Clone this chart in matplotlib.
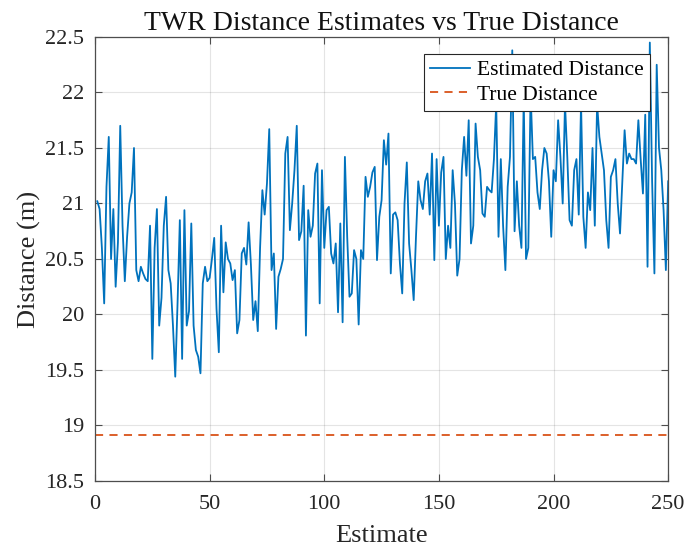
import numpy as np
import matplotlib
matplotlib.use("Agg")
import matplotlib.pyplot as plt

# TWR ranging run: one distance estimate per exchange (m)
estimates = [
    21.02, 20.95, 20.60, 20.10, 21.15, 21.60, 20.50, 20.95, 20.25, 20.65,
    21.70, 20.80, 20.30, 20.70, 21.00, 21.10, 21.50, 20.40, 20.30, 20.43,
    20.37, 20.32, 20.30, 20.80, 19.60, 20.60, 20.95, 19.90, 20.15, 20.80,
    21.06, 20.40, 20.28, 19.90, 19.44, 20.10, 20.85, 19.60, 20.94, 19.90,
    20.03, 20.82, 19.90, 19.68, 19.62, 19.47, 20.28, 20.43, 20.30, 20.33,
    20.50, 20.69, 20.05, 19.66, 20.80, 20.20, 20.65, 20.50, 20.46, 20.31,
    20.40, 19.83, 19.95, 20.55, 20.60, 20.45, 20.83, 20.45, 19.95, 20.12,
    19.85, 20.60, 21.12, 20.90, 21.18, 21.67, 20.40, 20.55, 19.87, 20.34,
    20.41, 20.50, 21.45, 21.60, 20.76, 21.00, 21.30, 21.70, 20.67, 20.75,
    21.16, 19.81, 20.94, 20.70, 20.80, 21.27, 21.36, 20.10, 21.30, 20.60,
    20.94, 20.97, 20.55, 20.46, 20.64, 20.02, 20.82, 19.93, 21.42, 20.70,
    20.16, 20.19, 20.58, 20.50, 19.91, 20.58, 20.50, 21.24, 21.06, 21.15,
    21.28, 21.33, 20.49, 20.88, 21.03, 21.57, 21.35, 21.63, 20.37, 20.90,
    20.92, 20.85, 20.46, 20.19, 21.00, 21.37, 20.64, 20.40, 20.13, 20.70,
    21.20, 21.03, 20.95, 21.20, 21.27, 20.90, 21.45, 20.49, 21.40, 20.80,
    21.28, 21.42, 20.50, 20.80, 20.60, 21.30, 21.00, 20.35, 20.50, 21.30,
    21.60, 21.25, 21.75, 20.64, 20.80, 21.72, 21.42, 21.30, 20.91, 20.88,
    21.15, 21.12, 21.10, 21.40, 21.90, 20.70, 21.40, 20.80, 20.40, 21.15,
    21.42, 22.38, 20.75, 21.20, 20.80, 20.60, 21.95, 20.50, 20.60, 22.00,
    21.40, 21.42, 21.10, 20.95, 21.30, 21.50, 21.45, 21.20, 20.70, 21.30,
    21.20, 21.75, 21.42, 21.00, 21.90, 21.42, 20.85, 20.80, 21.30, 21.40,
    20.90, 21.90, 20.88, 20.60, 21.10, 20.94, 21.50, 20.80, 21.90, 21.60,
    21.45, 21.30, 20.85, 20.60, 21.24, 21.30, 21.40, 21.00, 20.73, 21.20,
    21.66, 21.36, 21.45, 21.40, 21.40, 21.36, 21.75, 21.40, 21.09, 21.80,
    20.43, 22.45, 21.20, 20.37, 22.25, 21.50, 21.30, 20.94, 20.40, 21.20,
]
true_distance = 18.91

x_ticks = [0, 50, 100, 150, 200, 250]
y_ticks = [18.5, 19, 19.5, 20, 20.5, 21, 21.5, 22, 22.5]

plt.rcParams['font.family'] = ['Liberation Serif', 'DejaVu Serif']
plt.rcParams['mathtext.fontset'] = 'stix'

n = np.arange(1, len(estimates) + 1)

fig = plt.figure(figsize=(6.86, 5.53), dpi=100)
ax = fig.add_axes([0.1385, 0.1302, 0.8355, 0.8029])

ax.plot(n, estimates, color='#0072BD', lw=1.3, label='Estimated Distance')
ax.axhline(true_distance, color='#D95319', lw=1.3, ls=(0, (4.5, 3.5)),
           label='True Distance')

ax.set_xlim(0, 250)
ax.set_ylim(18.5, 22.5)
ax.set_xticks(x_ticks)
ax.set_yticks(y_ticks)
ax.set_yticklabels([f'{v:g}' for v in y_ticks])

ax.grid(True, color='#262626', alpha=0.12, lw=0.8)
ax.set_axisbelow(True)
for s in ax.spines.values():
    s.set_color('#4d4d4d')
    s.set_linewidth(0.9)
ax.tick_params(direction='in', length=5, width=0.8, colors='#4d4d4d',
               labelcolor='#262626', labelsize=16, top=True, right=True)
ax.tick_params(axis='x', pad=10)
ax.tick_params(axis='y', pad=8)

ax.set_title('TWR Distance Estimates vs True Distance', fontsize=20,
             color='#111111', pad=5)
ax.set_xlabel('Estimate', fontsize=19, color='#262626', labelpad=8)
ax.set_ylabel('Distance (m)', fontsize=19, color='#262626', labelpad=3)

leg = ax.legend(loc='upper right', bbox_to_anchor=(0.968, 0.962),
                fontsize=15.5, frameon=True, fancybox=False,
                handlelength=1.85, handletextpad=0.3, borderpad=0.3,
                labelspacing=0.2, borderaxespad=0)
leg.get_frame().set_edgecolor('#262626')
leg.get_frame().set_linewidth(0.8)
leg.get_frame().set_alpha(1)
leg.set_zorder(10)

fig.savefig('out.png', dpi=100)
